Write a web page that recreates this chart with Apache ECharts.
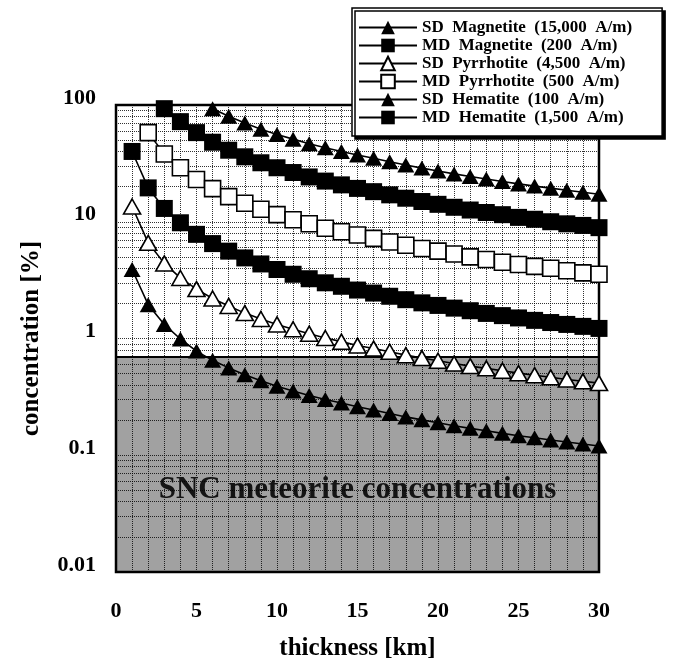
<!DOCTYPE html>
<html>
<head>
<meta charset="utf-8">
<script src="https://cdn.jsdelivr.net/npm/echarts@6/dist/echarts.min.js"></script>
<style>html,body{margin:0;padding:0;background:#fff}#c{width:675px;height:666px}</style>
</head>
<body>
<div id="c"></div>
<script>
// ---- data ----
var xTicks = [0, 5, 10, 15, 20, 25, 30];
var yTicks = [0.01, 0.1, 1, 10, 100];

var xSDMag = [6,7,8,9,10,11,12,13,14,15,16,17,18,19,20,21,22,23,24,25,26,27,28,29,30];
var ySDMag = [93,80,70,62,56,51,46.5,43,40,37.3,35,32.7,30.6,28.8,27.2,25.7,24.4,23.2,22.1,21.1,20.2,19.4,18.6,17.9,17.2];

var xMDMag = [3,4,5,6,7,8,9,10,11,12,13,14,15,16,17,18,19,20,21,22,23,24,25,26,27,28,29,30];
var yMDMag = [93,72,58,48,41,36,32,29,26.4,24.2,22.3,20.7,19.3,18.1,17,15.9,14.9,14.1,13.3,12.6,12,11.5,10.9,10.5,10,9.6,9.3,8.9];

var xSDPyr = [1,2,3,4,5,6,7,8,9,10,11,12,13,14,15,16,17,18,19,20,21,22,23,24,25,26,27,28,29,30];
var ySDPyr = [13.5,6.6,4.4,3.3,2.65,2.2,1.9,1.65,1.47,1.32,1.2,1.1,1.01,0.94,0.87,0.82,0.77,0.72,0.68,0.645,0.61,0.58,0.555,0.53,0.505,0.485,0.465,0.445,0.43,0.415];

var xMDPyr = [2,3,4,5,6,7,8,9,10,11,12,13,14,15,16,17,18,19,20,21,22,23,24,25,26,27,28,29,30];
var yMDPyr = [58,38,29,23,19.2,16.4,14.4,12.8,11.5,10.4,9.6,8.8,8.2,7.7,7.2,6.7,6.3,5.9,5.6,5.3,5.0,4.75,4.5,4.3,4.15,4.0,3.8,3.65,3.55];

var xSDHem = [1,2,3,4,5,6,7,8,9,10,11,12,13,14,15,16,17,18,19,20,21,22,23,24,25,26,27,28,29,30];
var ySDHem = [3.9,1.95,1.32,0.99,0.78,0.65,0.56,0.49,0.435,0.39,0.355,0.325,0.3,0.28,0.26,0.244,0.228,0.213,0.201,0.19,0.179,0.17,0.162,0.154,0.147,0.141,0.135,0.13,0.125,0.12];

var xMDHem = [1,2,3,4,5,6,7,8,9,10,11,12,13,14,15,16,17,18,19,20,21,22,23,24,25,26,27,28,29,30];
var yMDHem = [40,19.5,13,9.8,7.8,6.5,5.6,4.9,4.35,3.9,3.55,3.25,3.0,2.8,2.6,2.45,2.3,2.15,2.02,1.92,1.82,1.73,1.64,1.57,1.5,1.43,1.37,1.32,1.27,1.22];

var sncLow = 0.01, sncHigh = 0.7;
var sncLabel = 'SNC meteorite concentrations';

var names = ['SD  Magnetite  (15,000  A/m)', 'MD  Magnetite  (200  A/m)', 'SD  Pyrrhotite  (4,500  A/m)',
             'MD  Pyrrhotite  (500  A/m)', 'SD  Hematite  (100  A/m)', 'MD  Hematite  (1,500  A/m)'];

// ---- chart ----
function pairs(xs, ys) { return xs.map(function (x, i) { return [x, ys[i]]; }); }

var minorMult = [2,3,4,5,6,7,8,9];
var minorLines = [];
[0.01, 0.1, 1, 10].forEach(function (d) { minorMult.forEach(function (m) { minorLines.push({ yAxis: +(d * m).toPrecision(3) }); }); });

var serif = '"Liberation Serif", "Times New Roman", serif';
var lineStyle = { color: '#000', width: 1.6 };

function mk(name, xs, ys, symbol, size, fill) {
  return {
    name: name, type: 'line', data: pairs(xs, ys),
    symbol: symbol, symbolSize: size, showAllSymbol: true,
    lineStyle: lineStyle,
    itemStyle: { color: fill, borderColor: '#000', borderWidth: fill === '#fff' ? 1.6 : 0 },
    z: 5, animation: false
  };
}

var series = [
  mk(names[0], xSDMag, ySDMag, 'triangle', [17, 15], '#000'),
  mk(names[1], xMDMag, yMDMag, 'rect', 17, '#000'),
  mk(names[2], xSDPyr, ySDPyr, 'triangle', [17, 15], '#fff'),
  mk(names[3], xMDPyr, yMDPyr, 'rect', 16, '#fff'),
  mk(names[4], xSDHem, ySDHem, 'triangle', [17, 15], '#000'),
  mk(names[5], xMDHem, yMDHem, 'rect', 17, '#000')
];

series.push({
  type: 'line', data: [], silent: true, animation: false, z: 3,
  markArea: {
    silent: true,
    itemStyle: { color: 'rgba(0,0,0,0.37)' },
    label: { show: true, position: 'inside', offset: [0, 26], color: '#141414',
             fontFamily: serif, fontWeight: 'bold', fontSize: 31 },
    data: [[{ yAxis: sncLow, name: sncLabel }, { yAxis: sncHigh }]]
  },
  markLine: {
    silent: true, symbol: ['none', 'none'], label: { show: false },
    lineStyle: { color: '#000', type: 'dotted', width: 1, opacity: 0.8 },
    data: minorLines.concat([{ yAxis: sncHigh, lineStyle: { type: 'solid', width: 2, opacity: 1 } }])
  }
});

var chart = echarts.init(document.getElementById('c'), null, { renderer: 'canvas' });
chart.setOption({
  backgroundColor: '#fff',
  animation: false,
  grid: { left: 116, right: 76, top: 105, bottom: 92, show: true, borderColor: '#000', borderWidth: 2.5, backgroundColor: 'transparent' },
  legend: {
    data: names, orient: 'vertical', left: 352, top: 8,
    padding: [11, 30, 10, 6], itemGap: 1, itemWidth: 58, itemHeight: 17,
    backgroundColor: '#fff', borderColor: '#000', borderWidth: 1.5,
    shadowColor: '#000', shadowOffsetX: 3, shadowOffsetY: 3, shadowBlur: 0,
    textStyle: { fontFamily: serif, fontWeight: 'bold', fontSize: 17, color: '#000' },
    z: 20
  },
  xAxis: {
    type: 'value', min: 0, max: 30, interval: 5,
    name: 'thickness [km]', nameLocation: 'middle', nameGap: 64,
    nameTextStyle: { fontFamily: serif, fontWeight: 'bold', fontSize: 25, color: '#000' },
    axisLine: { show: false }, axisTick: { show: false },
    axisLabel: { margin: 28, fontFamily: serif, fontWeight: 'bold', fontSize: 22, color: '#000',
                 formatter: function (v) { return xTicks.indexOf(v) >= 0 ? String(v) : ''; } },
    splitLine: { show: true, lineStyle: { color: '#000', type: 'dotted', width: 1, opacity: 0.8 } },
    minorTick: { show: false, splitNumber: 5 },
    minorSplitLine: { show: true, lineStyle: { color: '#000', type: 'dotted', width: 1, opacity: 0.8 } }
  },
  yAxis: {
    type: 'log', logBase: 10, min: yTicks[0], max: yTicks[yTicks.length - 1],
    name: 'concentration [%]', nameLocation: 'middle', nameGap: 72, nameRotate: 90,
    nameTextStyle: { fontFamily: serif, fontWeight: 'bold', fontSize: 25, color: '#000' },
    axisLine: { show: false }, axisTick: { show: false },
    axisLabel: { margin: 20, verticalAlign: 'bottom', lineHeight: 14, fontFamily: serif, fontWeight: 'bold', fontSize: 22, color: '#000',
                 formatter: function (v) { return String(v); } },
    splitLine: { show: true, lineStyle: { color: '#000', type: 'dotted', width: 1, opacity: 0.8 } }
  },
  series: series
});
</script>
</body>
</html>
